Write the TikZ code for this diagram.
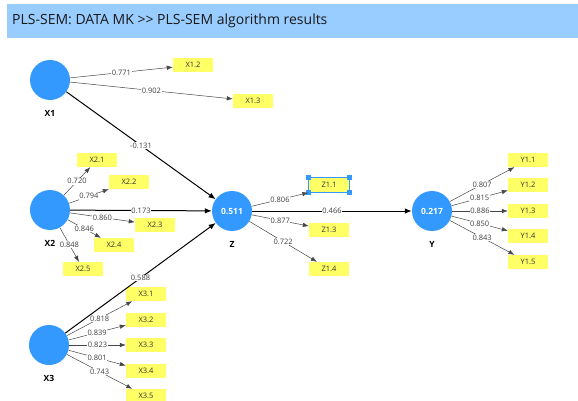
\documentclass[tikz,border=0pt]{standalone}
\usepackage{fontspec}
\setmainfont{Open Sans}
\usepackage{tikz}
\usepackage{xcolor}
\usetikzlibrary{arrows.meta}

\definecolor{lvblue}{RGB}{51,153,255}
\definecolor{mvyellow}{RGB}{255,255,102}
\definecolor{barblue}{RGB}{153,204,255}
\definecolor{loadgray}{RGB}{70,70,70}

\begin{document}
\begin{tikzpicture}[x=1pt,y=-1pt,
    lv/.style={circle,fill=lvblue,minimum size=40pt,inner sep=0pt,text=white,font=\fontsize{8.5}{9}\selectfont\bfseries},
    lvname/.style={font=\fontsize{8.5}{9}\selectfont\bfseries,inner sep=0pt},
    mv/.style={fill=mvyellow,minimum width=40pt,minimum height=14pt,inner sep=0pt,font=\fontsize{7.5}{8}\selectfont,text=black!80},
    load/.style={-{Latex[length=6pt,width=4.5pt]},draw=loadgray,line width=0.5pt},
    path/.style={-{Latex[length=7pt,width=5.5pt]},line width=1pt},
    coef/.style={midway,fill=white,inner sep=0.6pt,font=\fontsize{7.5}{8}\selectfont,text=black!75}]
    \useasboundingbox (0,0) rectangle (578,401);
    % title bar
    \fill[barblue] (7,4) rectangle (578,38);
    \node[anchor=west,font=\fontsize{14}{16}\selectfont,text=black!90,inner sep=0pt] (title) at (12,21) {PLS-SEM: DATA MK >{}> PLS-SEM algorithm results};

    % latent variables
    \node[lv] (X1) at (50,80) {};
    \node[lv] (X2) at (50,210) {};
    \node[lv] (X3) at (49,345) {};
    \node[lv] (Z) at (232,211) {0.511};
    \node[lv] (Y) at (432,211) {0.217};
    \node[lvname] (X1name) at (50,113) {X1};
    \node[lvname] (X2name) at (50,243) {X2};
    \node[lvname] (X3name) at (49,378) {X3};
    \node[lvname] (Zname) at (232,244) {Z};
    \node[lvname] (Yname) at (432,244) {Y};

    % indicators
    \node[mv] (X12) at (193,65) {X1.2};
    \node[mv] (X13) at (253,101) {X1.3};
    \node[mv] (X21) at (97,160) {X2.1};
    \node[mv] (X22) at (129,182) {X2.2};
    \node[mv] (X23) at (155,225) {X2.3};
    \node[mv] (X24) at (114,245) {X2.4};
    \node[mv] (X25) at (83,269) {X2.5};
    \node[mv] (X31) at (146,294) {X3.1};
    \node[mv] (X32) at (146,320) {X3.2};
    \node[mv] (X33) at (146,345) {X3.3};
    \node[mv] (X34) at (146,371) {X3.4};
    \node[mv] (X35) at (146,396) {X3.5};
    \node[mv,minimum width=41pt,minimum height=15pt] (Z11) at (329,185) {Z1.1};
    \node[mv] (Z13) at (329,230) {Z1.3};
    \node[mv] (Z14) at (329,269) {Z1.4};
    \node[mv] (Y11) at (528,160) {Y1.1};
    \node[mv] (Y12) at (528,185) {Y1.2};
    \node[mv] (Y13) at (528,211) {Y1.3};
    \node[mv] (Y14) at (528,236) {Y1.4};
    \node[mv] (Y15) at (528,262) {Y1.5};

    % selection frame on Z1.1
    \draw[lvblue,line width=0.7pt] (Z11.north west) rectangle (Z11.south east);
    \fill[lvblue] ([shift={(-2.5,-2.5)}]Z11.north west) rectangle ([shift={(2.5,2.5)}]Z11.north west);
    \fill[lvblue] ([shift={(-2.5,-2.5)}]Z11.north east) rectangle ([shift={(2.5,2.5)}]Z11.north east);
    \fill[lvblue] ([shift={(-2.5,-2.5)}]Z11.south west) rectangle ([shift={(2.5,2.5)}]Z11.south west);
    \fill[lvblue] ([shift={(-2.5,-2.5)}]Z11.south east) rectangle ([shift={(2.5,2.5)}]Z11.south east);

    % outer loadings
    \draw[load] (X1) -- (X12) node[coef]{0.771};
    \draw[load] (X1) -- (X13) node[coef]{0.902};
    \draw[load] (X2) -- (X21) node[coef]{0.720};
    \draw[load] (X2) -- (X22) node[coef]{0.794};
    \draw[load] (X2) -- (X23) node[coef]{0.860};
    \draw[load] (X2) -- (X24) node[coef]{0.846};
    \draw[load] (X2) -- (X25) node[coef]{0.848};
    \draw[load] (X3) -- (X31) node[coef]{0.818};
    \draw[load] (X3) -- (X32) node[coef]{0.839};
    \draw[load] (X3) -- (X33) node[coef]{0.823};
    \draw[load] (X3) -- (X34) node[coef]{0.801};
    \draw[load] (X3) -- (X35) node[coef]{0.743};
    \draw[load] (Z) -- (Z11.south west) node[coef]{0.806};
    \draw[load] (Z) -- (Z13) node[coef]{0.877};
    \draw[load] (Z) -- (Z14) node[coef]{0.722};
    \draw[load] (Y) -- (Y11) node[coef]{0.807};
    \draw[load] (Y) -- (Y12) node[coef]{0.815};
    \draw[load] (Y) -- (Y13) node[coef]{0.886};
    \draw[load] (Y) -- (Y14) node[coef]{0.850};
    \draw[load] (Y) -- (Y15) node[coef]{0.843};

    % path coefficients
    \draw[path] (X1) -- (Z) node[coef]{-0.131};
    \draw[path] (X2) -- (Z) node[coef]{0.173};
    \draw[path] (X3) -- (Z) node[coef]{0.588};
    \draw[path] (Z) -- (Y) node[coef]{0.466};
\end{tikzpicture}
\end{document}
